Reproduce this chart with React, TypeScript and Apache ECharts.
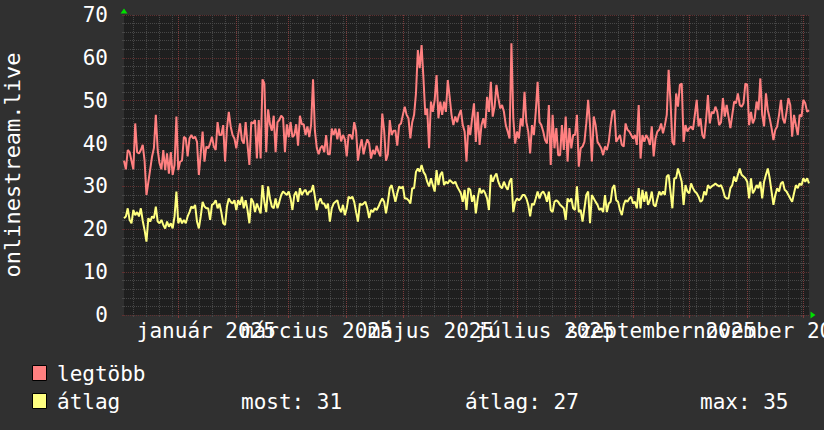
import React, { useEffect, useRef } from "react";
import * as echarts from "echarts";

// ---- data ----
const START_DATE = [2024, 11, 3]; // 2024-12-03 (UTC y, m0, d)
const MONTHS_HU = ["január", "február", "március", "április", "május", "június", "július", "augusztus", "szeptember", "október", "november", "december"];
const LABEL_MONTHS = [0, 2, 4, 6, 8, 10];
const LABEL_DAY = 16;
const Y_MIN = 0;
const Y_MAX = 70;
const Y_STEP = 10;
const AXIS_TITLE = "onlinestream.live";
const SERIES_NAMES = ["legtöbb", "átlag"];
const STAT_LABELS = ["most", "átlag", "max"];
const STAT_VALUES = [31, 27, 35];

const LEGTOBB_1 = [36,34,38.5,38,36,34,44.7,38,37.7,38.5,39.7,36,28,31,34,37,39,46.7,38.5,35.4,34,38.5,33.8,37.7,33,38,32.7,35,46.3,33.8,35.8,36,41.6,41.2,37,41.2,42,41.2,41.6,40.4,32.7,37.7,42.8,35.8,39.3,38.9,40,41.6,39.3,38.5,45,42,42,44.3,35.8,43.5,47.4,44,42,41.2,38.9,42,44.7,40.8,40,45,39.7,35,45,44.7,45.5,36.5,45.5];
const LEGTOBB_2 = [36.5,55,54,38,48,44.5,43,46.5,38,45,45.5,46.5,46,38,44.5,41.5,45,41.5,42,44.5,39.5,46.5,44.5,44.5,42,44,41.5,44.5,55,43,39,37.5,39,39.5,38,42,37.5,37.5,43.5,42,43.5,41,43.5,40.5,42,41,37,42,42,41,45,43,36,39,41,37.5,39.5,41,40,36.5,38.5,37.5,39.5,38,37,47,43,36,37.5,45.5,42,43,43,39.5];
const LEGTOBB_3 = [44.3,44.7,46.7,48.6,46.7,45.9,41.2,45,46.7,51.7,61.8,57.6,63,55.2,46.7,48.2,38.9,49.8,47.4,50.2,56,45.9,49.8,46.7,49.8,47.4,54.8,50.9,46.7,44.3,46.3,45,46.7,47.8,44.3,42.8,35.8,44.3,42,45.9,49.4,40.4,47.4,39.7,44.3,45.9,43.6,50.9,47.4,54.4,46.3,48.6,53.7,50.6,48.2,49,47.4,44.3,42.8,41.2,63.4,45.9,40,42.8,41.2,45.9,44,52.1,45,42.8,37.7,44.3,42,47.4];
const LEGTOBB_4 = [54.4,45,44.3,42.8,40.8,40,49,35,46.7,38.9,43.6,37.3,37.3,44.3,38.5,46.3,35.8,43.6,38.9,42,42,46.7,34.6,38.9,39.3,40.4,44.7,50.2,44.3,35.8,46.3,44.3,40.4,39.7,38.9,37.3,39.3,38.5,40.4,44.3,47.4,47.8,40.4,41.2,42,39.7,39.3,44.7,43.2,42.8,42,41.2,42,39.7,49,36.5,42,40.4,42,41.2,39.7,44,37,41.2,42.8,43.2,44.7,42.4,44.3,46.7,57.2,49.8,40.4,39.7];
const LEGTOBB_5 = [51.7,48.6,53.7,54,40.4,44.3,42.8,43.6,44,43.2,46.7,50.2,44,45.9,42,41.2,45.5,51.3,44.7,47.4,47,48.6,47.4,44.3,45,50.6,46.3,49,46.3,43.6,46.7,49.8,49.4,51.7,49,48.6,49.4,54,53.7,44.3,47.4,44.7,45.9,49.8,47.8,55.2,46.7,44,51.7,47.8,45.9,43.6,40.8,43.2,44,46.7,50.2,45.9,44.7,47.4,50.6,49,41.6,46.7,44.3,42,46.7,46.3,50.2,49.4,47.4,47.8];

const ATLAG_1 = [22.6,23,24.9,22.2,21.4,24.5,23.3,24,23,24.9,22,19.8,17.1,22.6,21.8,23,22.6,25.3,21.8,21.4,22.2,21,20.2,21.8,20.6,21.4,20.2,23,28.8,21.4,22.6,21.4,22.2,21.4,23,24,25.3,24.9,25.7,21.8,20.2,23,26.4,25.3,24.9,24.9,22.2,25.7,26,26.8,24.9,26,24,21.4,21,25.3,27.2,26.4,26,26.8,24.5,26.8,25.7,27.6,24.9,26.8,24.5,21.4,27.2,26.4,24,26,24.9];
const ATLAG_2 = [23.7,30.3,26.4,24,30,27.2,25.3,24.9,27.2,24.9,26.4,28,28.8,28.4,28,28.8,27.2,24.5,28,28.8,26.4,29.6,28,28.8,29.2,28,28.8,28.8,30.3,27.6,24.5,26.4,27.2,26,26,24.9,26,21.8,24.9,26,26.4,26.8,24.9,24,25.7,23.3,24.9,27.6,27.2,27.6,26.4,24,21.8,26,25.7,26,26.4,24.9,22.6,24.5,24,24.9,24.5,25.3,26.4,27.2,26.4,23.7,26.4,29.6,30.3,28.4,26.4,28.4];
const ATLAG_3 = [30,29.6,30,27.2,27.2,26.8,26,29.6,29.6,33.4,34.2,33.4,35,33.4,32.7,31.1,30,31.9,30.3,28.8,33.8,30.3,32.7,33.4,30.3,31.1,30.7,31.5,31.1,30.7,31.1,30,29.2,28.4,26.4,29.2,24.5,29.6,29.2,26.4,28,23.7,27.2,29.6,28.4,29.2,28.4,27.2,24.5,32.7,31.1,32.3,33,31.1,30,29.6,31.1,30,29.2,31.1,31.9,24,26.4,27.2,26.8,27.2,28,28,27.2,25.7,23,26,25.7,27.2];
const ATLAG_4 = [28.8,27.2,28.4,28.8,28,26.4,28.8,24.5,24,26.4,26.8,26.4,25.7,25.3,24.9,22.2,27.2,26.4,27.2,24.9,24.5,30,24,24.5,21.8,24.9,28,28.8,21.4,28,27.2,26.4,25.7,24.5,24.9,24,28,24,26,26.4,29.6,30.3,26.8,26.4,24.5,23.3,25.7,26.8,26.4,27.2,27.6,26,26.4,24.9,29.6,24.9,29.2,26.4,28.8,25.7,26.8,28.8,25.7,25.3,27.2,28.8,28,28.8,28,32.3,32.7,28.8,24.9,31.9];
const ATLAG_5 = [31.9,34.2,32.7,31.1,25.7,30.3,28.8,28.4,30.7,29.6,28.8,28.4,27.6,26.4,26.8,28.8,28,30.3,29.6,30,30.3,30.7,30.3,30,30.3,29.2,27.6,27.2,27.2,29.6,30.3,32.3,31.1,32.7,34.2,32.7,32.3,31.9,31.1,27.2,31.9,28.4,29.2,30.3,29.6,31.1,27.2,31.1,32.7,34.2,31.9,28.8,25.7,28,29.6,28.8,30.7,31.1,29.2,28.8,28,27.2,26.4,28.4,30.3,29.6,30.7,30.3,31.9,31.1,31.9,30.7];

const LEGTOBB = [...LEGTOBB_1, ...LEGTOBB_2, ...LEGTOBB_3, ...LEGTOBB_4, ...LEGTOBB_5];
const ATLAG = [...ATLAG_1, ...ATLAG_2, ...ATLAG_3, ...ATLAG_4, ...ATLAG_5];

// ---- styling ----
const FONT = "DejaVu Sans Mono";
const FONT_SIZE = 21;
const BG = "#303030";
const CANVAS = "#1f1f1f";
const RED = "#ff8080";
const YELLOW = "#ffff80";
const MAJOR_H = "#5e3030";
const MAJOR_V = "#7e3c3c";
const MINOR = "#474747";
const TEXT = "#ffffff";
const ARROW = "#00e000";

const DAY_MS = 86400000;
const startMs = Date.UTC(START_DATE[0], START_DATE[1], START_DATE[2]);
const DATES = LEGTOBB.map((_, i) => new Date(startMs + i * DAY_MS).toISOString().slice(0, 10));

const parts = (v: string) => v.split("-").map(Number);
const isMonthStart = (_i: number, v: string) => parts(v)[2] === 1;
const isSunday = (_i: number, v: string) => new Date(v + "T00:00:00Z").getUTCDay() === 0;
const isLabelDay = (v: string) => {
  const [, m, d] = parts(v);
  return d === LABEL_DAY && LABEL_MONTHS.includes(m - 1);
};

const GRID = { left: 124, right: 15, top: 15, bottom: 115 };

export default function App() {
  const ref = useRef<HTMLDivElement>(null);
  useEffect(() => {
    const chart = echarts.init(ref.current!, null, { renderer: "svg" });
    const plotRight = 824 - GRID.right;
    const plotBottom = 430 - GRID.bottom;
    const legendRows = [
      { name: SERIES_NAMES[0], color: RED, y: 366 },
      { name: SERIES_NAMES[1], color: YELLOW, y: 394 },
    ];
    const legendText = (text: string, x: number, y: number) => ({
      type: "text",
      x,
      y,
      style: { x: 0, y: 0, text, fill: TEXT, fontSize: FONT_SIZE, fontFamily: FONT, verticalAlign: "middle" },
    });
    const legendGraphics: any[] = [];
    legendRows.forEach((r) => {
      legendGraphics.push({
        type: "rect",
        shape: { x: 32.5, y: r.y - 0.5, width: 14, height: 15 },
        style: { fill: r.color, stroke: "#000", lineWidth: 1 },
      });
      legendGraphics.push(legendText(r.name, 57, r.y + 7.5));
    });
    STAT_LABELS.forEach((lab, i) => {
      legendGraphics.push(legendText(`${lab}: ${STAT_VALUES[i]}`, [241, 465, 700][i], 394 + 7.5));
    });

    chart.setOption({
      animation: false,
      backgroundColor: BG,
      textStyle: { fontFamily: FONT },
      grid: { ...GRID, show: true, backgroundColor: CANVAS, borderWidth: 0, containLabel: false, outerBoundsMode: "none" },
      xAxis: [
        {
          type: "category",
          data: DATES,
          boundaryGap: false,
          axisLine: { show: false },
          axisTick: { show: true, interval: isMonthStart, length: 3, lineStyle: { color: MAJOR_V } },
          splitLine: { show: true, interval: isMonthStart, lineStyle: { color: MAJOR_V, type: [1, 1], width: 1 } },
          axisLabel: {
            interval: 0,
            formatter: (v: string) => {
              if (!isLabelDay(v)) return "";
              const [y, m] = parts(v);
              return `${MONTHS_HU[m - 1]} ${y}`;
            },
            color: TEXT,
            fontSize: FONT_SIZE,
            fontFamily: FONT,
            margin: 5,
            hideOverlap: false,
          },
          z: 2,
        },
        {
          type: "category",
          data: DATES,
          boundaryGap: false,
          position: "bottom",
          axisLine: { show: false },
          axisTick: { show: true, interval: isSunday, length: 2, lineStyle: { color: MINOR } },
          splitLine: { show: true, interval: isSunday, lineStyle: { color: MINOR, type: [1, 1], width: 1 } },
          axisLabel: { show: false },
          z: 1,
        },
      ],
      yAxis: {
        type: "value",
        min: Y_MIN,
        max: Y_MAX,
        interval: Y_STEP,
        name: AXIS_TITLE,
        nameLocation: "middle",
        nameRotate: 90,
        nameGap: 101,
        nameTextStyle: { color: TEXT, fontSize: FONT_SIZE + 1, fontFamily: FONT },
        axisLine: { show: false },
        axisTick: { show: true, length: 2, lineStyle: { color: MAJOR_H } },
        minorTick: { show: true, splitNumber: 5, length: 2, lineStyle: { color: MINOR } },
        splitLine: { show: true, lineStyle: { color: MAJOR_H, type: [1, 1], width: 1 } },
        minorSplitLine: { show: true, lineStyle: { color: MINOR, type: [1, 1], width: 1 } },
        axisLabel: { color: TEXT, fontSize: FONT_SIZE, fontFamily: FONT, margin: 16 },
      },
      series: [
        {
          name: SERIES_NAMES[0],
          type: "line",
          data: LEGTOBB,
          symbol: "none",
          lineStyle: { color: RED, width: 2 },
          itemStyle: { color: RED },
          z: 3,
        },
        {
          name: SERIES_NAMES[1],
          type: "line",
          data: ATLAG,
          symbol: "none",
          lineStyle: { color: YELLOW, width: 2 },
          itemStyle: { color: YELLOW },
          z: 4,
        },
      ],
      graphic: [
        ...legendGraphics,
        {
          type: "polygon",
          shape: { points: [[GRID.left - 3.5, GRID.top - 1.5], [GRID.left + 3.5, GRID.top - 1.5], [GRID.left, GRID.top - 6.5]] },
          style: { fill: ARROW },
        },
        {
          type: "polygon",
          shape: { points: [[plotRight + 1.5, plotBottom - 3.5], [plotRight + 1.5, plotBottom + 3.5], [plotRight + 6.5, plotBottom]] },
          style: { fill: ARROW },
        },
      ],
    });
    return () => chart.dispose();
  }, []);
  return <div ref={ref} style={{ position: "fixed", left: 0, top: 0, width: 824, height: 430 }} />;
}
